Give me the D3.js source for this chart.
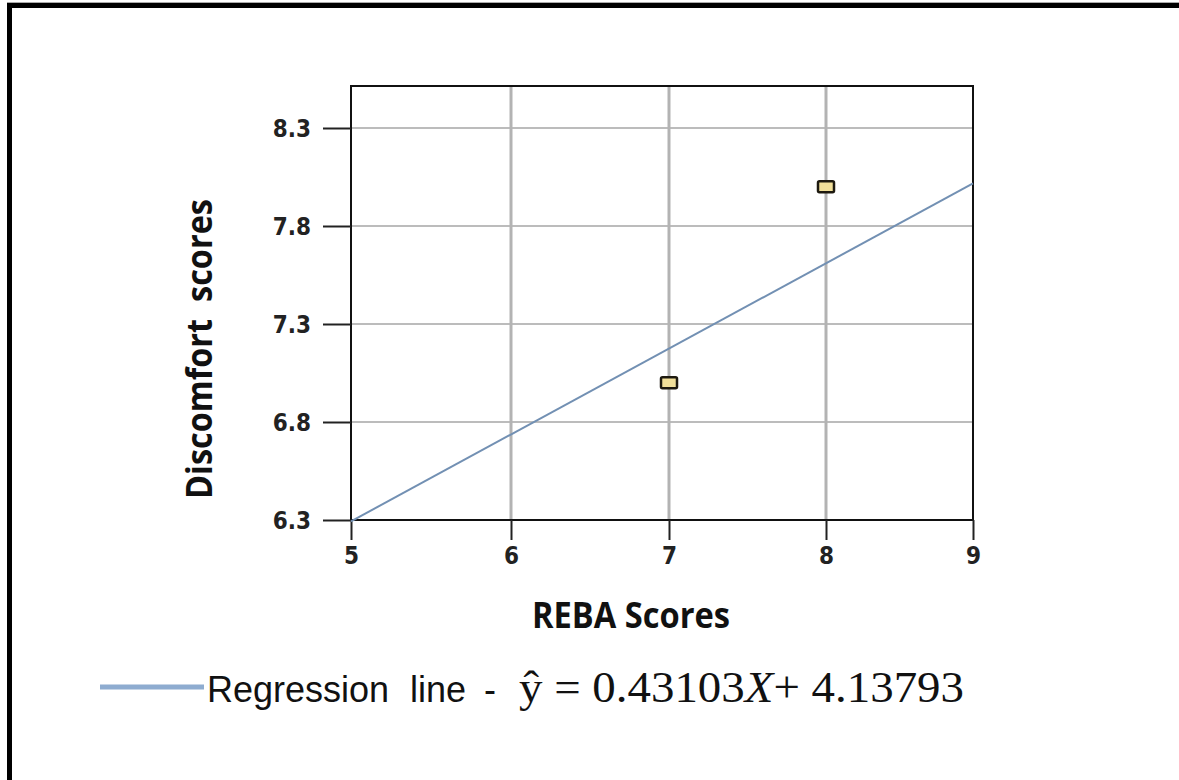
<!DOCTYPE html>
<html>
<head>
<meta charset="utf-8">
<script src="https://cdnjs.cloudflare.com/ajax/libs/d3/7.9.0/d3.min.js"></script>
<style>
  html, body { margin: 0; padding: 0; background: #fff; }
  svg { display: block; }
</style>
</head>
<body>
<script>
// REBA vs discomfort scatter with regression line
const xTicks = [5, 6, 7, 8, 9];
const yTicks = [6.3, 6.8, 7.3, 7.8, 8.3];
const rebaScores = [7, 8];
const discomfortScores = [7.0, 8.0];
const regSlope = 0.43103;
const regIntercept = 4.13793;

const W = 1179, H = 780;
const svg = d3.select('body').append('svg').attr('width', W).attr('height', H);

// outer frame (only top + left edges show in the picture)
svg.append('line').attr('x1', 7).attr('x2', W).attr('y1', 2.5).attr('y2', 2.5)
  .attr('stroke', '#aaa').attr('stroke-width', 1);
svg.append('path').attr('d', `M9.5,${H} V5.5 H${W}`)
  .attr('fill', 'none').attr('stroke', '#000').attr('stroke-width', 5);

// the source picture spaces the x gridlines slightly unevenly, so map each tick
const x = d3.scaleLinear().domain(xTicks).range([351, 511, 669, 826, 973]);
const y = d3.scaleLinear().domain([6.3, 8.3]).range([520, 128]);
const plotTop = 86;

const g = svg.append('g');

// horizontal grid
g.selectAll('.hg').data(yTicks.slice(1)).join('line')
  .attr('x1', x(5)).attr('x2', x(9))
  .attr('y1', d => y(d)).attr('y2', d => y(d))
  .attr('stroke', '#a6a6a6').attr('stroke-width', 1.5);

// vertical grid
g.selectAll('.vg').data(xTicks.slice(1, -1)).join('line')
  .attr('x1', d => x(d)).attr('x2', d => x(d))
  .attr('y1', plotTop).attr('y2', y(6.3))
  .attr('stroke', '#b3b3b3').attr('stroke-width', 3);

// plot frame
g.append('rect')
  .attr('x', x(5)).attr('y', plotTop)
  .attr('width', x(9) - x(5)).attr('height', y(6.3) - plotTop)
  .attr('fill', 'none').attr('stroke', '#111').attr('stroke-width', 2);

// axes
const yAxis = d3.axisLeft(y).tickValues(yTicks).tickFormat(d3.format('.1f'))
  .tickSize(28).tickPadding(12);
const xAxis = d3.axisBottom(x).tickValues(xTicks).tickFormat(d3.format('d'))
  .tickSize(20).tickPadding(7);

const ya = g.append('g').attr('transform', `translate(${x(5)},0)`).call(yAxis);
const xa = g.append('g').attr('transform', `translate(0,${y(6.3)})`).call(xAxis);
[ya, xa].forEach(a => {
  a.select('.domain').remove();
  a.selectAll('.tick line').attr('stroke', '#222').attr('stroke-width', 2);
  a.selectAll('.tick text')
    .attr('fill', '#222')
    .style('font-family', '"DejaVu Sans Condensed", "Liberation Sans", sans-serif')
    .style('font-weight', 'bold')
    .style('font-size', '24px');
});
ya.selectAll('.tick text').attr('dy', '0.36em');

// regression line
g.append('line')
  .attr('x1', x(5)).attr('y1', y(regSlope * 5 + regIntercept))
  .attr('x2', x(9)).attr('y2', y(regSlope * 9 + regIntercept))
  .attr('stroke', '#7290b3').attr('stroke-width', 2);

// points
g.selectAll('.pt').data(rebaScores).join('rect')
  .attr('x', (d, i) => x(d) - 8)
  .attr('y', (d, i) => y(discomfortScores[i]) - 5.5)
  .attr('width', 16).attr('height', 11).attr('rx', 1.5)
  .attr('fill', '#f2e09a').attr('stroke', '#1e1a10').attr('stroke-width', 2.5);

// axis titles
svg.append('text')
  .attr('transform', `translate(212,349) rotate(-90)`)
  .attr('text-anchor', 'middle')
  .style('font-family', '"Open Sans", sans-serif').style('font-weight', 'bold')
  .style('font-size', '35px').attr('fill', '#111')
  .attr('textLength', 300).attr('lengthAdjust', 'spacingAndGlyphs')
  .attr('xml:space', 'preserve')
  .text('Discomfort  scores');

svg.append('text')
  .attr('x', 631).attr('y', 628)
  .attr('text-anchor', 'middle')
  .style('font-family', '"Open Sans", sans-serif').style('font-weight', 'bold')
  .style('font-size', '35px').attr('fill', '#111')
  .attr('textLength', 198).attr('lengthAdjust', 'spacingAndGlyphs')
  .text('REBA Scores');

// legend
svg.append('line').attr('x1', 100).attr('x2', 204).attr('y1', 687).attr('y2', 687)
  .attr('stroke', '#8eacd0').attr('stroke-width', 5);
const lab = svg.append('text').attr('y', 702)
  .attr('fill', '#111').style('font-size', '36px')
  .style('font-family', '"Liberation Sans", sans-serif');
lab.append('tspan').attr('x', 207).text('Regression');
lab.append('tspan').attr('x', 410).text('line');
lab.append('tspan').attr('x', 484).text('-');
const eq = svg.append('text').attr('x', 519).attr('y', 702)
  .attr('fill', '#111').style('font-size', '45px')
  .style('font-family', '"Liberation Serif", serif')
  .attr('textLength', 445).attr('lengthAdjust', 'spacingAndGlyphs');
eq.append('tspan').text('ŷ = 0.43103');
eq.append('tspan').style('font-style', 'italic').text('X');
eq.append('tspan').text('+ 4.13793');
</script>
</body>
</html>
